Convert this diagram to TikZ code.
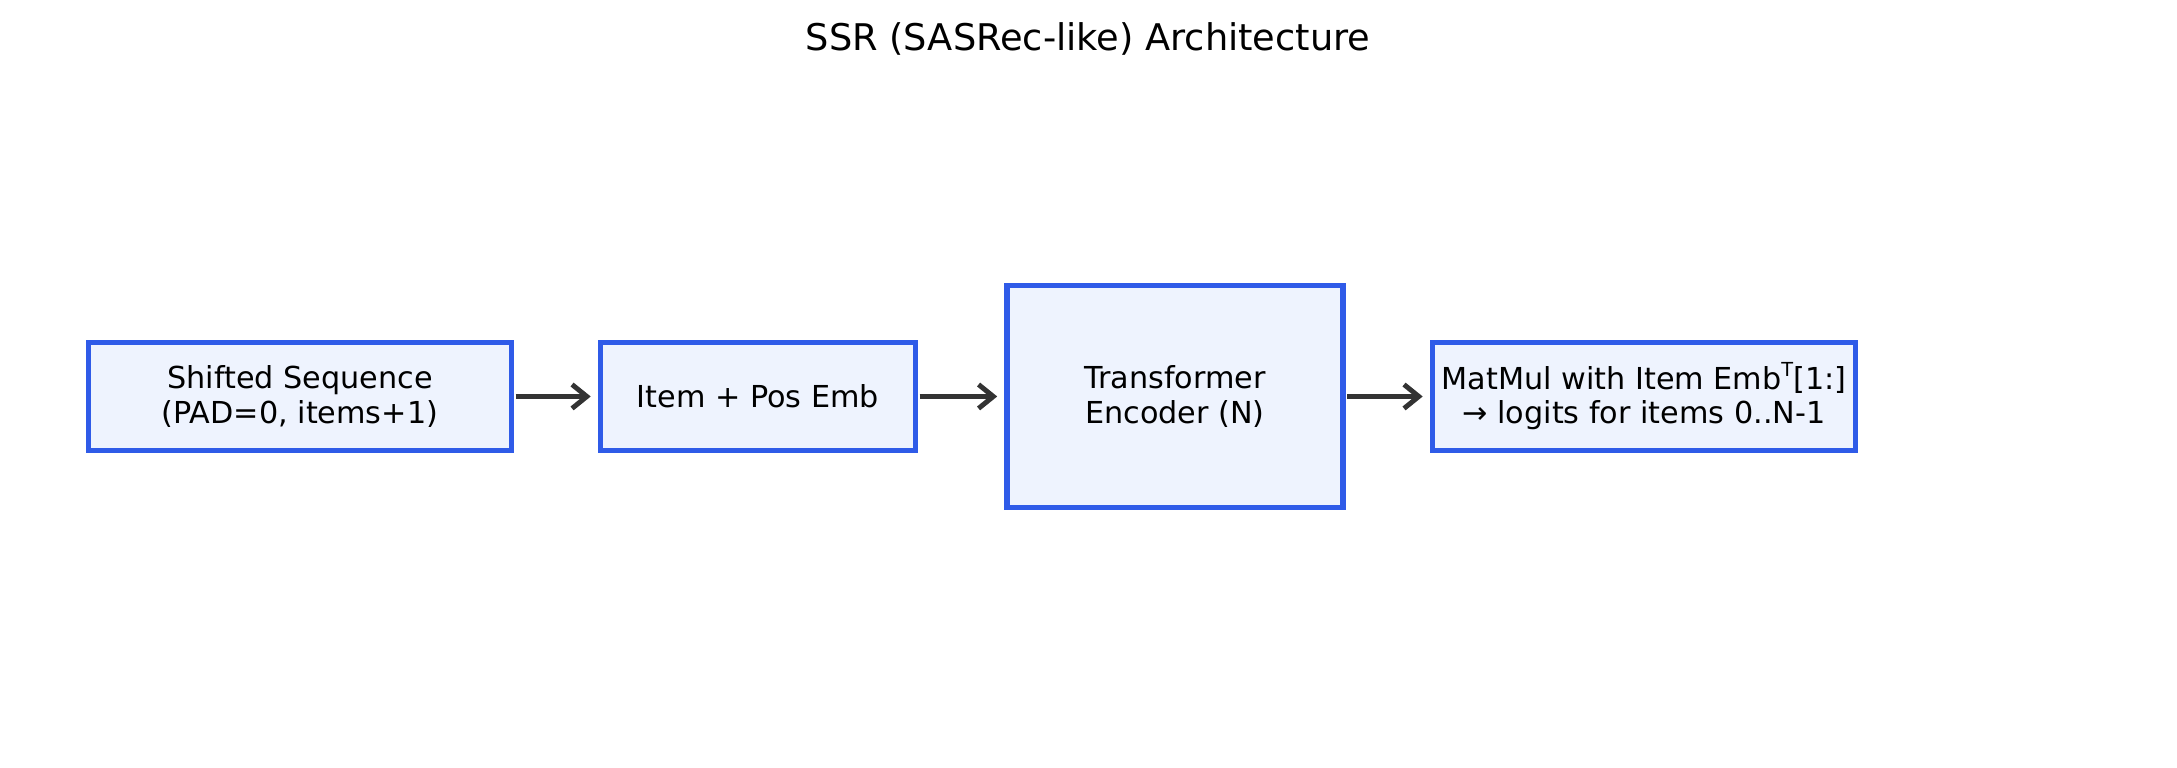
\documentclass[tikz,border=0pt]{standalone}
\usepackage{fontspec}
\setmainfont{DejaVu Sans}
\usetikzlibrary{arrows.meta}
\definecolor{boxedge}{HTML}{2F5BE8}
\definecolor{boxfill}{HTML}{EEF3FE}
\definecolor{flow}{HTML}{333333}
\begin{document}
\begin{tikzpicture}[
				x=0.01cm, y=-0.01cm,
				every node/.style={
						font=\fontsize{8.6pt}{9.9pt}\selectfont,
					},
				block/.style={
						draw=boxedge, fill=boxfill, line width=1.5pt,
						minimum height=1.08cm, align=center, inner sep=0pt,
					},
				link/.style={
						draw=flow, line width=1.4pt,
						-{Straight Barb[length=4.2pt,width=6.8pt]},
						shorten <=0.4pt, shorten >=2pt,
					},]
			\useasboundingbox (0,0) rectangle (2177,768);
			\node (title) at (1088,39) {\fontsize{10.45pt}{12pt}\selectfont SSR (SASRec-like) Architecture};
			\node[block, minimum width=4.23cm] (seq) at (300,396.5) {Shifted Sequence\\(PAD=0, items+1)};
			\node[block, minimum width=3.15cm] (emb) at (758,396.5) {Item + Pos Emb};
			\node[block, minimum width=3.36cm, minimum height=2.22cm] (enc) at (1175,396.5) {Transformer\\Encoder (N)};
			\node[block, minimum width=4.23cm] (out) at (1644,396.5) {MatMul with Item Emb\raisebox{0.75ex}{\fontsize{5.5pt}{5.5pt}\selectfont T}[1:]\\→ logits for items 0..N-1};
			\draw[link] (seq) -- (emb);
			\draw[link] (emb) -- (enc);
			\draw[link] (enc) -- (out);
		\end{tikzpicture}
\end{document}
